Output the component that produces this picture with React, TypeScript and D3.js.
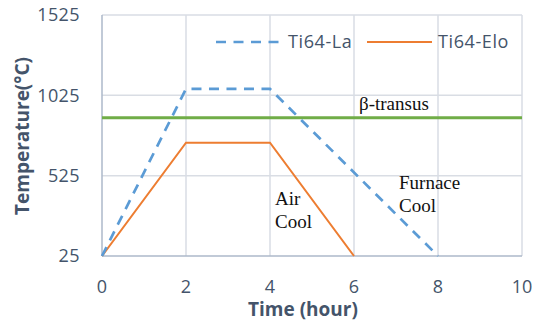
import React from "react";
import * as d3 from "d3";

const laTime = [0, 2, 4, 8];
const laTemp = [25, 1065, 1065, 25];
const eloTime = [0, 2, 4, 6];
const eloTemp = [25, 730, 730, 25];
const transusTime = [0, 10];
const transusTemp = [885, 885];
const xTicks = [0, 2, 4, 6, 8, 10];
const yTicks = [25, 525, 1025, 1525];
const seriesNames = ["Ti64-La", "Ti64-Elo"];

const W = 534, H = 324;
const M = { left: 102, right: 12, top: 15, bottom: 68 };

export default function App() {
  const x = d3.scaleLinear().domain([0, 10]).range([M.left, W - M.right]);
  const y = d3.scaleLinear().domain([25, 1525]).range([H - M.bottom, M.top]);
  const line = d3.line<[number, number]>().x(d => x(d[0])).y(d => y(d[1]));
  const la = laTime.map((t, i) => [t, laTemp[i]] as [number, number]);
  const elo = eloTime.map((t, i) => [t, eloTemp[i]] as [number, number]);
  const tr = transusTime.map((t, i) => [t, transusTemp[i]] as [number, number]);
  const txt = "#44546a";
  const sans = "'Open Sans', sans-serif";
  const serif = "'Liberation Serif', 'Times New Roman', serif";
  return (
    <svg width={W} height={H} style={{ position: "absolute", left: 0, top: 0, background: "#fff" }}>
      {/* grid */}
      {yTicks.filter(v => v !== 25).map(v => (
        <line key={"gy" + v} x1={x(0)} x2={x(10)} y1={y(v)} y2={y(v)} stroke="#d9dde4" strokeWidth={1.5} />
      ))}
      {xTicks.filter(v => v !== 0).map(v => (
        <line key={"gx" + v} x1={x(v)} x2={x(v)} y1={y(25)} y2={y(1525)} stroke="#d9dde4" strokeWidth={1.5} />
      ))}
      {/* axes */}
      <line x1={x(0)} x2={x(0)} y1={y(25)} y2={y(1525)} stroke="#adb9ca" strokeWidth={1.5} />
      <line x1={x(0)} x2={x(10)} y1={y(25)} y2={y(25)} stroke="#adb9ca" strokeWidth={1.5} />
      {/* tick labels */}
      {yTicks.map(v => (
        <text key={"ty" + v} x={80} y={y(v)} dy="0.36em" textAnchor="end" fontFamily={sans} fontSize={18} fill={txt} letterSpacing={0.4}>{v}</text>
      ))}
      {xTicks.map(v => (
        <text key={"tx" + v} x={x(v)} y={293} textAnchor="middle" fontFamily={sans} fontSize={18} fill={txt}>{v}</text>
      ))}
      {/* axis titles */}
      <text x={303} y={316} textAnchor="middle" fontFamily={sans} fontSize={19} fontWeight="bold" fill={txt}>Time (hour)</text>
      <text transform={`translate(29,136) rotate(-90)`} textAnchor="middle" fontFamily={sans} fontSize={19} fontWeight="bold" fill={txt}>Temperature(°C)</text>
      {/* series */}
      <path d={line(tr) || ""} fill="none" stroke="#70ad47" strokeWidth={3} />
      <path d={line(elo) || ""} fill="none" stroke="#ed7d31" strokeWidth={2} />
      <path d={line(la) || ""} fill="none" stroke="#5b9bd5" strokeWidth={2.7} strokeDasharray="10 7.5" />
      {/* legend */}
      <line x1={216} x2={279} y1={42} y2={42} stroke="#5b9bd5" strokeWidth={2.7} strokeDasharray="10 7.5" />
      <text x={288} y={42} dy="0.36em" fontFamily={sans} fontSize={18} fill={txt} letterSpacing={0.6}>{seriesNames[0]}</text>
      <line x1={367} x2={432} y1={42} y2={42} stroke="#ed7d31" strokeWidth={2} />
      <text x={438} y={42} dy="0.36em" fontFamily={sans} fontSize={18} fill={txt} letterSpacing={0.6}>{seriesNames[1]}</text>
      {/* annotations */}
      <text x={359} y={110} fontFamily={serif} fontSize={19} fill="#111">β-transus</text>
      <text x={275} y={205} fontFamily={serif} fontSize={19} fill="#111">Air</text>
      <text x={275} y={228} fontFamily={serif} fontSize={19} fill="#111">Cool</text>
      <text x={399} y={189} fontFamily={serif} fontSize={19} fill="#111">Furnace</text>
      <text x={399} y={212} fontFamily={serif} fontSize={19} fill="#111">Cool</text>
    </svg>
  );
}
